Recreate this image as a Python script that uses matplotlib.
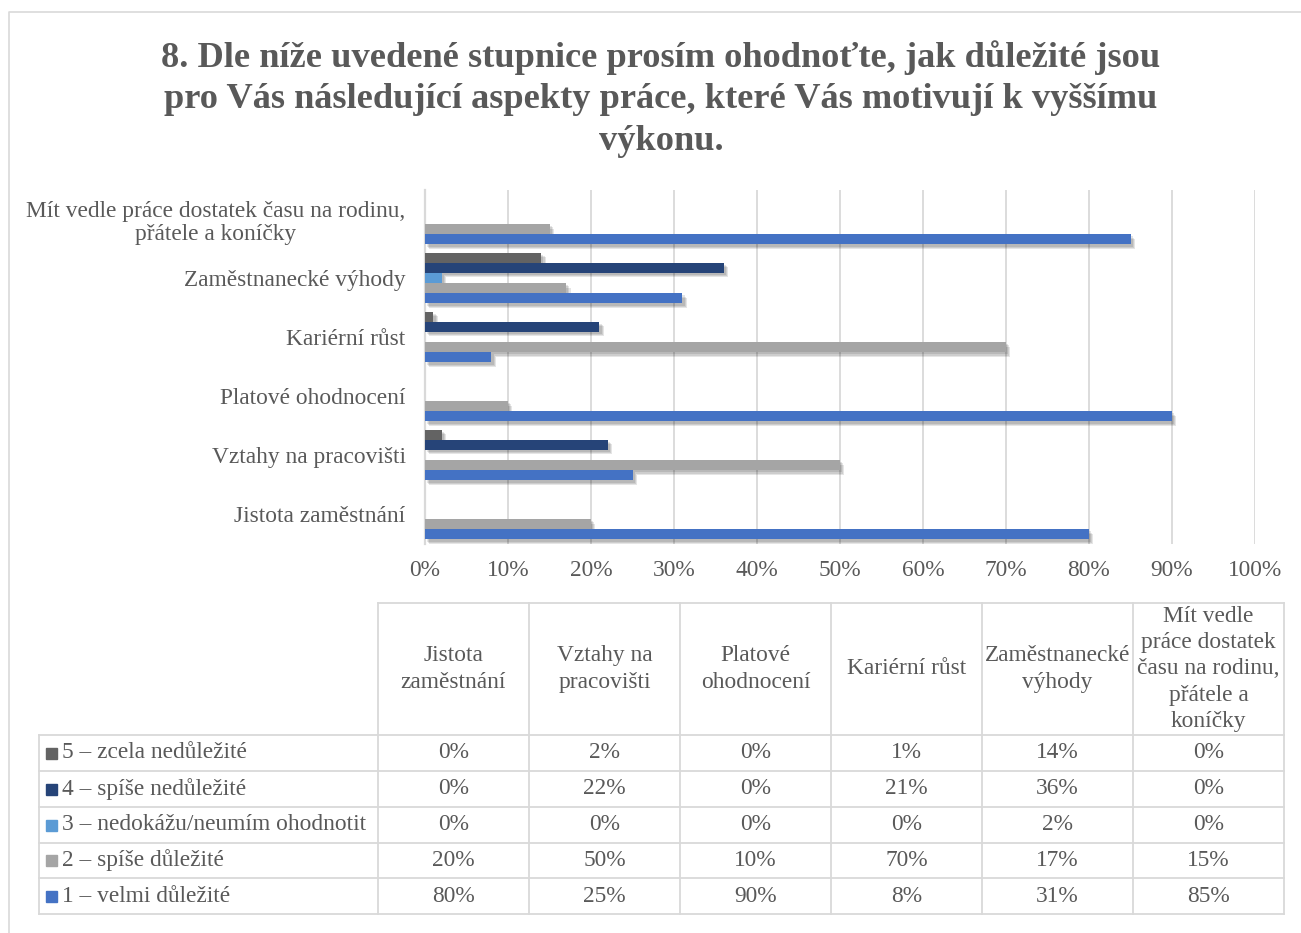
import numpy as np
import matplotlib.pyplot as plt
import matplotlib.patheffects as pe
from matplotlib.patches import Rectangle

plt.rcParams['font.family'] = ['Liberation Serif', 'DejaVu Serif']

# Aspekty práce (pořadí zdola nahoru v grafu, zleva doprava v tabulce)
categories = ['Jistota zaměstnání', 'Vztahy na pracovišti', 'Platové ohodnocení',
              'Kariérní růst', 'Zaměstnanecké výhody',
              'Mít vedle práce dostatek času na rodinu,\npřátele a koníčky']
table_headers = ['Jistota\nzaměstnání', 'Vztahy na\npracovišti', 'Platové\nohodnocení',
                 'Kariérní růst', 'Zaměstnanecké\nvýhody',
                 'Mít vedle\npráce dostatek\nčasu na rodinu,\npřátele a\nkoníčky']

# Odpovědi v procentech
s5 = [0, 2, 0, 1, 14, 0]
s4 = [0, 22, 0, 21, 36, 0]
s3 = [0, 0, 0, 0, 2, 0]
s2 = [20, 50, 10, 70, 17, 15]
s1 = [80, 25, 90, 8, 31, 85]

series_names = ['5 – zcela nedůležité', '4 – spíše nedůležité',
                '3 – nedokážu/neumím ohodnotit', '2 – spíše důležité',
                '1 – velmi důležité']
series_values = [s5, s4, s3, s2, s1]
series_colors = ['#636363', '#264478', '#5B9BD5', '#A5A5A5', '#4472C4']

title = ('8. Dle níže uvedené stupnice prosím ohodnoťte, jak důležité jsou\n'
         'pro Vás následující aspekty práce, které Vás motivují k vyššímu\nvýkonu.')

TXT = '#595959'
GRID = '#D9D9D9'
W, H = 1301, 933
FS = 16.8

fig = plt.figure(figsize=(W / 100, H / 100), dpi=100)

# pozadí v pixelových souřadnicích: rámeček, nadpis, datová tabulka
bg = fig.add_axes([0, 0, 1, 1], zorder=0)
bg.set_xlim(0, W)
bg.set_ylim(H, 0)
bg.axis('off')
bg.plot([9, 9, W + 5], [H + 5, 12, 12], color=GRID, lw=1.2)
bg.text(661, 99, title, ha='center', va='center', fontsize=26.2, fontweight='bold',
        color=TXT, linespacing=1.33)

# graf
ax = fig.add_axes([425 / W, (H - 543.5) / H, 830 / W, 354 / H], zorder=2)
y = np.arange(len(categories))
h = 0.172
shadow = [pe.SimplePatchShadow(offset=(d, -d), shadow_rgbFace='k', alpha=0.1)
          for d in (3.2, 2.4, 1.6)] + [pe.Normal()]
for k, (vals, col) in enumerate(zip(series_values, series_colors)):
    off = (2 - k) * h
    ax.barh(y + off, vals, height=h, color=col, zorder=3, path_effects=shadow)

ax.set_xlim(0, 100)
ax.set_ylim(-0.5, len(categories) - 0.5)
ax.set_xticks(np.arange(0, 101, 10))
ax.set_xticklabels([f'{v}%' for v in range(0, 101, 10)])
ax.set_yticks(y)
ax.set_yticklabels(categories)
for lab in ax.get_yticklabels():
    lab.set_multialignment('center')
    lab.set_linespacing(1.15)
ax.tick_params(axis='both', length=0, labelsize=FS, labelcolor=TXT)
ax.tick_params(axis='y', pad=14)
ax.tick_params(axis='x', pad=12)
ax.xaxis.grid(True, color=GRID, lw=1.3, zorder=0)
ax.set_axisbelow(True)
for s in ['top', 'right', 'bottom']:
    ax.spines[s].set_visible(False)
ax.spines['left'].set_color(GRID)
ax.spines['left'].set_linewidth(1.6)

# datová tabulka pod grafem
col_x = [378 + 151 * i for i in range(len(categories) + 1)]
row_y = [735, 771, 807, 843, 878, 914]
head_top = 603
left = 39
lw = 1.3
bg.plot([col_x[0], col_x[-1]], [head_top, head_top], color=GRID, lw=lw)
for x in col_x:
    bg.plot([x, x], [head_top, row_y[-1]], color=GRID, lw=lw)
bg.plot([left, left], [row_y[0], row_y[-1]], color=GRID, lw=lw)
for yy in row_y:
    bg.plot([left, col_x[-1]], [yy, yy], color=GRID, lw=lw)

for i, lab in enumerate(table_headers):
    cx = (col_x[i] + col_x[i + 1]) / 2
    bg.text(cx, (head_top + row_y[0]) / 2, lab, ha='center', va='center',
            fontsize=FS, color=TXT, linespacing=1.32)

for r, (name, vals, col) in enumerate(zip(series_names, series_values, series_colors)):
    cy = (row_y[r] + row_y[r + 1]) / 2
    bg.add_patch(Rectangle((46, cy - 5.5), 11, 11, color=col))
    bg.text(62, cy, name, ha='left', va='center', fontsize=FS, color=TXT)
    for i, v in enumerate(vals):
        cx = (col_x[i] + col_x[i + 1]) / 2
        bg.text(cx, cy, f'{v}%', ha='center', va='center', fontsize=FS, color=TXT)

fig.savefig('out.png', dpi=100)
